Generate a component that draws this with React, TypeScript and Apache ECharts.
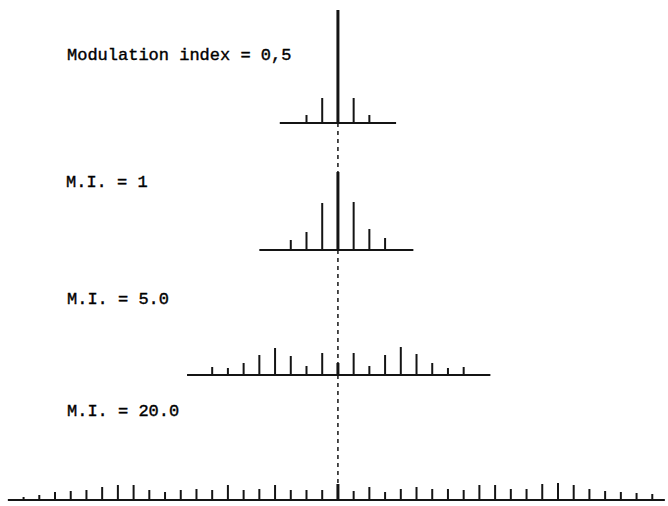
import React, { useEffect, useRef } from "react";
import * as echarts from "echarts";

// Panel labels
const panelLabels = ["Modulation index = 0,5", "M.I. = 1", "M.I. = 5.0", "M.I. = 20.0"];

// Sideband orders and relative line heights for each modulation index
const orders05 = [-2, -1, 0, 1, 2];
const amps05 = [8, 25, 113, 25, 8];

const orders1 = [-3, -2, -1, 0, 1, 2, 3];
const amps1 = [10, 18, 47, 78, 48, 21, 12];

const orders5 = [-8, -7, -6, -5, -4, -3, -2, -1, 0, 1, 2, 3, 4, 5, 6, 7, 8];
const amps5 = [8, 7, 12, 20, 27, 19, 9, 22, 12, 22, 9, 20, 28, 21, 12, 7, 8];

const orders20 = [
  -20, -19, -18, -17, -16, -15, -14, -13, -12, -11, -10, -9, -8, -7, -6, -5, -4, -3, -2, -1,
  0,
  1, 2, 3, 4, 5, 6, 7, 8, 9, 10, 11, 12, 13, 14, 15, 16, 17, 18, 19, 20,
];
const amps20 = [
  3, 5, 8, 9, 10, 13, 15, 15, 10, 8, 10, 11, 10, 15, 10, 11, 15, 10, 10, 10,
  16,
  9, 13, 8, 11, 13, 11, 11, 10, 15, 15, 11, 11, 16, 17, 15, 11, 9, 8, 7, 6,
];

// Baseline extents (in sideband-order units)
const baseline05 = [-3.7, 3.7];
const baseline1 = [-5.0, 4.8];
const baseline5 = [-9.6, 9.7];
const baseline20 = [-21.0, 20.8];

const panels = [
  { orders: orders05, amps: amps05, base: baseline05, label: panelLabels[0] },
  { orders: orders1, amps: amps1, base: baseline1, label: panelLabels[1] },
  { orders: orders5, amps: amps5, base: baseline5, label: panelLabels[2] },
  { orders: orders20, amps: amps20, base: baseline20, label: panelLabels[3] },
];

const baselineY = [123, 250, 375, 500];
const labelPos = [
  [67, 55],
  [66, 182],
  [67, 299],
  [67, 411],
];
const INK = "#141414";

export default function App() {
  const ref = useRef<HTMLDivElement>(null);
  useEffect(() => {
    if (!ref.current) return;
    const chart = echarts.init(ref.current, undefined, { renderer: "svg" });
    const grids: any[] = [];
    const xAxes: any[] = [];
    const yAxes: any[] = [];
    const series: any[] = [];
    panels.forEach((p, i) => {
      grids.push({ left: 0, width: 668, top: baselineY[i] - 120, height: 120 });
      xAxes.push({ type: "value", gridIndex: i, min: -21.5, max: 21, show: false });
      yAxes.push({ type: "value", gridIndex: i, min: 0, max: 120, show: false });
      series.push({
        type: "line",
        xAxisIndex: i,
        yAxisIndex: i,
        data: [
          [p.base[0], 0],
          [p.base[1], 0],
        ],
        symbol: "none",
        lineStyle: { color: INK, width: 2 },
        silent: true,
      });
      series.push({
        type: "custom",
        xAxisIndex: i,
        yAxisIndex: i,
        clip: false,
        data: p.orders.map((o, k) => [o, p.amps[k]]),
        renderItem: (params: any, api: any) => {
          const x = api.value(0);
          const h = api.value(1);
          const a = api.coord([x, 0]);
          const b = api.coord([x, h]);
          return {
            type: "line",
            shape: { x1: a[0], y1: a[1], x2: b[0], y2: b[1] },
            style: { stroke: INK, lineWidth: x === 0 ? 3 : 2 },
          };
        },
      });
    });
    chart.setOption({
      animation: false,
      backgroundColor: "#ffffff",
      grid: grids,
      xAxis: xAxes,
      yAxis: yAxes,
      series,
    });
    const graphic: any[] = [];
    panels.forEach((p, i) => {
      graphic.push({
        type: "text",
        x: labelPos[i][0],
        y: labelPos[i][1],
        style: {
          text: p.label,
          font: '17px "Liberation Mono", monospace',
          fill: "#000000",
          stroke: "#000000",
          lineWidth: 0.4,
          textVerticalAlign: "middle",
        },
      });
      if (i > 0) {
        const prev = chart.convertToPixel({ gridIndex: i - 1 } as any, [0, 0]) as number[];
        const c = p.orders.indexOf(0);
        const top = chart.convertToPixel({ gridIndex: i } as any, [0, p.amps[c]]) as number[];
        graphic.push({
          type: "line",
          shape: { x1: prev[0], y1: prev[1], x2: top[0], y2: top[1] },
          style: { stroke: INK, lineWidth: 1.5, lineDash: [4, 4] },
        });
      }
    });
    chart.setOption({ graphic });
    return () => chart.dispose();
  }, []);
  return (
    <div
      ref={ref}
      style={{ position: "fixed", left: 0, top: 0, width: 668, height: 506, background: "#fff" }}
    />
  );
}
